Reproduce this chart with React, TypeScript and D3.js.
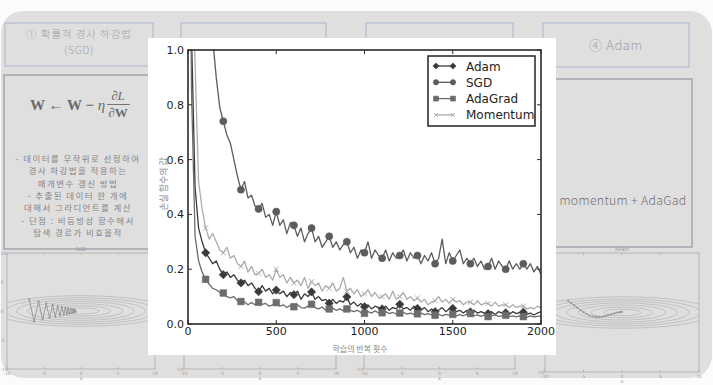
import React from 'react';
import * as d3 from 'd3';

const iterations = d3.range(0, 2001, 20);

const adamLoss = [
  2.30, 1.05, 0.50, 0.35, 0.30, 0.26, 0.24, 0.22, 0.23, 0.20,
  0.18, 0.19, 0.17, 0.18, 0.16, 0.15, 0.16, 0.14, 0.15, 0.13,
  0.118, 0.14, 0.12, 0.13, 0.11, 0.124, 0.11, 0.12, 0.10, 0.115,
  0.107, 0.12, 0.09, 0.11, 0.10, 0.117, 0.09, 0.10, 0.085, 0.09,
  0.076, 0.09, 0.075, 0.085, 0.08, 0.099, 0.07, 0.08, 0.065, 0.075,
  0.063, 0.07, 0.055, 0.065, 0.06, 0.055, 0.065, 0.05, 0.06, 0.055,
  0.072, 0.055, 0.06, 0.05, 0.065, 0.057, 0.05, 0.06, 0.045, 0.055,
  0.045, 0.05, 0.06, 0.045, 0.055, 0.057, 0.045, 0.05, 0.04, 0.05,
  0.044, 0.05, 0.04, 0.045, 0.04, 0.038, 0.045, 0.035, 0.045, 0.04,
  0.041, 0.035, 0.045, 0.038, 0.042, 0.043, 0.035, 0.04, 0.033, 0.04,
  0.045,
];

const sgdLoss = [
  2.30, 2.22, 2.05, 1.82, 1.58, 1.36, 1.18, 1.04, 0.90, 0.79,
  0.74, 0.69, 0.66, 0.60, 0.54, 0.49, 0.52, 0.46, 0.47, 0.43,
  0.42, 0.44, 0.39, 0.40, 0.36, 0.41, 0.36, 0.38, 0.33, 0.37,
  0.36, 0.32, 0.35, 0.30, 0.33, 0.35, 0.30, 0.32, 0.28, 0.30,
  0.32, 0.28, 0.30, 0.27, 0.29, 0.30, 0.26, 0.28, 0.24, 0.27,
  0.26, 0.30, 0.24, 0.27, 0.25, 0.24, 0.27, 0.23, 0.26, 0.24,
  0.25, 0.27, 0.23, 0.26, 0.24, 0.25, 0.22, 0.25, 0.23, 0.26,
  0.22, 0.24, 0.31, 0.22, 0.26, 0.23, 0.25, 0.27, 0.22, 0.24,
  0.22, 0.24, 0.21, 0.23, 0.20, 0.21, 0.24, 0.20, 0.23, 0.21,
  0.20, 0.23, 0.20, 0.22, 0.20, 0.22, 0.20, 0.22, 0.19, 0.21,
  0.18,
];

const adaGradLoss = [
  2.30, 0.85, 0.32, 0.23, 0.19, 0.163, 0.145, 0.13, 0.125, 0.115,
  0.113, 0.10, 0.095, 0.10, 0.085, 0.082, 0.08, 0.07, 0.078, 0.07,
  0.079, 0.072, 0.075, 0.065, 0.07, 0.078, 0.065, 0.07, 0.06, 0.068,
  0.063, 0.07, 0.06, 0.058, 0.065, 0.072, 0.06, 0.055, 0.062, 0.05,
  0.055, 0.058, 0.05, 0.055, 0.048, 0.055, 0.05, 0.045, 0.05, 0.042,
  0.039, 0.045, 0.04, 0.048, 0.04, 0.041, 0.045, 0.038, 0.042, 0.037,
  0.04, 0.043, 0.036, 0.04, 0.035, 0.037, 0.04, 0.034, 0.038, 0.033,
  0.032, 0.036, 0.03, 0.035, 0.032, 0.035, 0.03, 0.034, 0.03, 0.036,
  0.038, 0.03, 0.033, 0.028, 0.032, 0.027, 0.03, 0.033, 0.028, 0.03,
  0.032, 0.027, 0.03, 0.026, 0.03, 0.027, 0.025, 0.03, 0.026, 0.028,
  0.03,
];

const momentumLoss = [
  2.30, 1.60, 0.95, 0.52, 0.42, 0.35, 0.31, 0.33, 0.30, 0.27,
  0.26, 0.28, 0.24, 0.25, 0.22, 0.21, 0.23, 0.19, 0.21, 0.18,
  0.185, 0.20, 0.17, 0.18, 0.16, 0.20, 0.17, 0.18, 0.15, 0.17,
  0.15, 0.16, 0.14, 0.17, 0.13, 0.155, 0.14, 0.15, 0.12, 0.14,
  0.13, 0.15, 0.12, 0.13, 0.17, 0.12, 0.13, 0.11, 0.125, 0.10,
  0.11, 0.125, 0.10, 0.115, 0.095, 0.10, 0.11, 0.09, 0.12, 0.09,
  0.10, 0.115, 0.09, 0.10, 0.085, 0.095, 0.08, 0.09, 0.07, 0.08,
  0.085, 0.10, 0.08, 0.09, 0.075, 0.09, 0.08, 0.085, 0.07, 0.08,
  0.08, 0.07, 0.085, 0.07, 0.075, 0.075, 0.065, 0.08, 0.065, 0.07,
  0.07, 0.06, 0.07, 0.06, 0.065, 0.065, 0.055, 0.06, 0.055, 0.065,
  0.06,
];

const seriesNames = ['Adam', 'SGD', 'AdaGrad', 'Momentum'];
const seriesColors = ['#3a3a3a', '#5c5c5c', '#6c6c6c', '#acacac'];
const seriesMarkers = ['diamond', 'circle', 'square', 'x'];
const seriesValues = [adamLoss, sgdLoss, adaGradLoss, momentumLoss];

// background slide: contour plots and optimizer paths
const contourLevels = [0.3, 0.8, 1.6, 2.6, 3.8, 5.2, 7.0];
const sgdPath = [
  [-7, 2], [-6.34, -1.8], [-5.73, 1.62], [-5.19, -1.46], [-4.69, 1.31], [-4.25, -1.18],
  [-3.84, 1.06], [-3.48, -0.96], [-3.15, 0.86], [-2.85, -0.77], [-2.58, 0.7], [-2.33, -0.63],
  [-2.11, 0.56], [-1.91, -0.51], [-1.73, 0.46], [-1.56, -0.41], [-1.41, 0.37], [-1.28, -0.33],
  [-1.16, 0.3], [-1.05, -0.27], [-0.95, 0.24], [-0.86, -0.2], [-0.78, 0.17], [-0.7, -0.14],
];
const adamPath = [
  [-7, 2], [-6.6, 1.6], [-6.2, 1.2], [-5.8, 0.8], [-5.4, 0.4], [-5, 0.05], [-4.6, -0.25],
  [-4.2, -0.5], [-3.8, -0.65], [-3.4, -0.74], [-3, -0.76], [-2.6, -0.72], [-2.2, -0.6],
  [-1.8, -0.45], [-1.4, -0.3], [-1, -0.15], [-0.6, -0.02], [-0.3, 0.06], [0, 0.1],
];
const momentumPath: number[][] = [];
const adaGradPath: number[][] = [];

const sideTexts = [
  '- 데이터를 무작위로 선정하여',
  '경사 하강법을 적용하는',
  '매개변수 갱신 방법',
  '- 추출된 데이터 한 개에',
  '대해서 그라디언트를 계산',
  '- 단점 : 비등방성 함수에서',
  '탐색 경로가 비효율적',
];

const slideFont = '"Noto Sans CJK KR", "Noto Sans", sans-serif';
const plotFont = '"DejaVu Sans", sans-serif';

const ContourPanel: React.FC<{ x0: number; x1: number; y0: number; y1: number; title: string; path: number[][]; id: string }> = ({ x0, x1, y0, y1, title, path, id }) => {
  const sx = d3.scaleLinear().domain([-10, 10]).range([x0, x1]);
  const sy = d3.scaleLinear().domain([-10, 10]).range([y1, y0]);
  const line = d3.line<number[]>().x(d => sx(d[0])).y(d => sy(d[1]));
  const ticks = sx.ticks(4);
  return (
    <g>
      <clipPath id={id}>
        <rect x={x0} y={y0} width={x1 - x0} height={y1 - y0} />
      </clipPath>
      <g clipPath={`url(#${id})`}>
        {contourLevels.map(c => (
          <ellipse key={c} cx={sx(0)} cy={sy(0)} rx={sx(Math.sqrt(20 * c)) - sx(0)} ry={sy(0) - sy(Math.sqrt(c))}
            fill="none" stroke="#b9b9b9" strokeWidth={0.8} />
        ))}
        {path.length > 0 && <path d={line(path) || ''} fill="none" stroke="#9a9a9a" strokeWidth={1} />}
        {path.map((p, i) => (
          <circle key={i} cx={sx(p[0])} cy={sy(p[1])} r={1.1} fill="#999" />
        ))}
      </g>
      <rect x={x0} y={y0} width={x1 - x0} height={y1 - y0} fill="none" stroke="#b5b5b5" strokeWidth={1} />
      <text x={(x0 + x1) / 2} y={y0 - 2} textAnchor="middle" fontSize={5} fill="#999" fontFamily={plotFont}>{title}</text>
      {ticks.map(t => (
        <g key={t}>
          <text x={sx(t)} y={y1 + 6} textAnchor="middle" fontSize={4.5} fill="#999" fontFamily={plotFont}>{t}</text>
          <text x={Math.max(x0 - 8, 0.5)} y={sy(t) + 1.5} fontSize={4.5} fill="#999" fontFamily={plotFont}>{t}</text>
          <line x1={sx(t)} x2={sx(t)} y1={y0} y2={y0 + 2} stroke="#b5b5b5" />
          <line x1={sx(t)} x2={sx(t)} y1={y1} y2={y1 - 2} stroke="#b5b5b5" />
        </g>
      ))}
      <text x={sx(0)} y={y1 + 11} textAnchor="middle" fontSize={5} fill="#999" fontFamily={plotFont}>x</text>
    </g>
  );
};

const Marker: React.FC<{ kind: string; cx: number; cy: number; color: string; scale?: number }> = ({ kind, cx, cy, color, scale = 1 }) => {
  if (kind === 'x') {
    const r = 2.5 * scale;
    return (
      <path d={`M${cx - r},${cy - r}L${cx + r},${cy + r}M${cx - r},${cy + r}L${cx + r},${cy - r}`}
        stroke={color} strokeWidth={1} />
    );
  }
  const sym = kind === 'circle' ? d3.symbolCircle : d3.symbolSquare;
  const size = (kind === 'circle' ? 40 : kind === 'square' ? 44 : 34) * scale * scale;
  const rot = kind === 'diamond' ? 45 : 0;
  return <path d={d3.symbol(sym, size)() || ''} transform={`translate(${cx},${cy}) rotate(${rot})`} fill={color} stroke={color} strokeWidth={0.6} />;
};

const App: React.FC = () => {
  const plot = { left: 188, right: 541, top: 50, bottom: 324 };
  const x = d3.scaleLinear().domain([0, 2000]).range([plot.left, plot.right]);
  const y = d3.scaleLinear().domain([0, 1]).range([plot.bottom, plot.top]);
  const line = d3.line<number>().x((_, i) => x(iterations[i])).y(d => y(d));
  const xTicks = x.ticks(4);
  const yTicks = y.ticks(5);

  const legend = { x: 428, y: 56, w: 107, h: 70 };

  return (
    <svg width={713} height={385} style={{ position: 'absolute', left: 0, top: 0, background: '#fbfbfb' }}>
      {/* slide background */}
      <rect x={1} y={11} width={711} height={367} rx={22} fill="#e0dfe0" />

      {/* header boxes */}
      <rect x={5} y={23} width={148} height={43} fill="none" stroke="#a9b5cf" strokeWidth={1} />
      <rect x={181} y={23} width={145} height={43} fill="none" stroke="#a9b5cf" strokeWidth={1} />
      <rect x={366} y={23} width={147} height={43} fill="none" stroke="#a9b5cf" strokeWidth={1} />
      <rect x={543} y={23} width={146} height={44} fill="none" stroke="#a9b5cf" strokeWidth={1} />
      <text x={79} y={38} textAnchor="middle" fontSize={10.5} letterSpacing={0.9} fill="#a3a3a3" fontFamily={slideFont} fontWeight={300}>① 확률적 경사 하강법</text>
      <text x={79} y={54} textAnchor="middle" fontSize={10.5} letterSpacing={0.6} fill="#a3a3a3" fontFamily={slideFont} fontWeight={300}>(SGD)</text>
      <text x={616} y={50} textAnchor="middle" fontSize={13} letterSpacing={0.6} fill="#a3a3a3" fontFamily={slideFont} fontWeight={300}>④ Adam</text>

      {/* body boxes */}
      <rect x={4} y={75} width={150} height={174} fill="none" stroke="#a4a4ae" strokeWidth={1.5} />
      <rect x={545} y={79} width={147} height={168} fill="none" stroke="#a4a4ae" strokeWidth={1.5} />

      <text x={30} y={110} fontSize={15} fill="#6a6a6a" fontFamily='"Liberation Serif", serif' fontWeight="bold">
        W ← W − <tspan fontStyle="italic" fontWeight="normal">η</tspan>
      </text>
      <text x={118} y={100} textAnchor="middle" fontSize={13} fill="#6a6a6a" fontFamily='"Liberation Serif", serif'>
        ∂<tspan fontStyle="italic">L</tspan>
      </text>
      <line x1={107} x2={130} y1={104.5} y2={104.5} stroke="#6a6a6a" strokeWidth={0.9} />
      <text x={118} y={117} textAnchor="middle" fontSize={13} fill="#6a6a6a" fontFamily='"Liberation Serif", serif'>
        ∂<tspan fontWeight="bold">W</tspan>
      </text>
      {sideTexts.map((t, i) => (
        <text key={i} x={78} y={162 + i * 12.3} textAnchor="middle" fontSize={8.5} letterSpacing={1.4} fill="#858585" fontFamily={slideFont}>{t}</text>
      ))}
      <text x={623} y={205} textAnchor="middle" fontSize={12.3} letterSpacing={0.3} fill="#737373" fontFamily={slideFont} fontWeight={300}>momentum + AdaGad</text>

      {/* contour plots along the bottom */}
      <ContourPanel id="c1" x0={7} x1={155} y0={253} y1={369} title="SGD" path={sgdPath} />
      <ContourPanel id="c2" x0={184} x1={336} y0={253} y1={369} title="Momentum" path={momentumPath} />
      <ContourPanel id="c3" x0={364} x1={515} y0={253} y1={369} title="AdaGrad" path={adaGradPath} />
      <ContourPanel id="c4" x0={545} x1={699} y0={253} y1={372} title="Adam" path={adamPath} />

      {/* pasted loss chart */}
      <rect x={148} y={38} width={408} height={317} fill="#ffffff" />
      <clipPath id="plotClip">
        <rect x={plot.left} y={plot.top} width={plot.right - plot.left} height={plot.bottom - plot.top} />
      </clipPath>
      <g clipPath="url(#plotClip)">
        {seriesValues.map((vals, si) => (
          <g key={seriesNames[si]}>
            <path d={line(vals) || ''} fill="none" stroke={seriesColors[si]} strokeWidth={1.3} strokeLinejoin="round" />
            {vals.map((v, i) => (iterations[i] % 100 === 0 && iterations[i] < 2000 ? (
              <Marker key={i} kind={seriesMarkers[si]} cx={x(iterations[i])} cy={y(v)} color={seriesColors[si]} />
            ) : null))}
          </g>
        ))}
      </g>
      <rect x={plot.left} y={plot.top} width={plot.right - plot.left} height={plot.bottom - plot.top} fill="none" stroke="#2a2a2a" strokeWidth={1.6} />
      {xTicks.map(t => (
        <g key={t}>
          <line x1={x(t)} x2={x(t)} y1={plot.bottom} y2={plot.bottom - 4} stroke="#2a2a2a" />
          <line x1={x(t)} x2={x(t)} y1={plot.top} y2={plot.top + 4} stroke="#2a2a2a" />
          <text x={x(t)} y={335} textAnchor="middle" fontSize={11} fill="#222" fontFamily={plotFont}>{t}</text>
        </g>
      ))}
      {yTicks.map(t => (
        <g key={t}>
          <line x1={plot.left} x2={plot.left + 4} y1={y(t)} y2={y(t)} stroke="#2a2a2a" />
          <line x1={plot.right} x2={plot.right - 4} y1={y(t)} y2={y(t)} stroke="#2a2a2a" />
          <text x={184} y={y(t) + 4} textAnchor="end" fontSize={11} fill="#222" fontFamily={plotFont}>{d3.format('.1f')(t)}</text>
        </g>
      ))}
      <text x={360} y={351.5} textAnchor="middle" fontSize={8} fill="#8a8a8a" fontFamily={slideFont}>학습의 반복 횟수</text>
      <text transform="translate(167,184) rotate(-90)" textAnchor="middle" fontSize={9} fill="#8a8a8a" fontFamily={slideFont}>손실 함수의 값</text>

      {/* legend */}
      <rect x={legend.x} y={legend.y} width={legend.w} height={legend.h} fill="#fff" stroke="#222" strokeWidth={1.5} />
      {seriesNames.map((name, i) => {
        const ly = legend.y + 10 + i * 16.3;
        return (
          <g key={name}>
            <line x1={436} x2={453} y1={ly} y2={ly} stroke={seriesColors[i]} strokeWidth={1.3} />
            <Marker kind={seriesMarkers[i]} cx={436} cy={ly} color={seriesColors[i]} scale={0.75} />
            <Marker kind={seriesMarkers[i]} cx={453} cy={ly} color={seriesColors[i]} scale={0.75} />
            <text x={466} y={ly + 4.5} fontSize={12} fill="#222" fontFamily={plotFont}>{name}</text>
          </g>
        );
      })}
    </svg>
  );
};

export default App;
